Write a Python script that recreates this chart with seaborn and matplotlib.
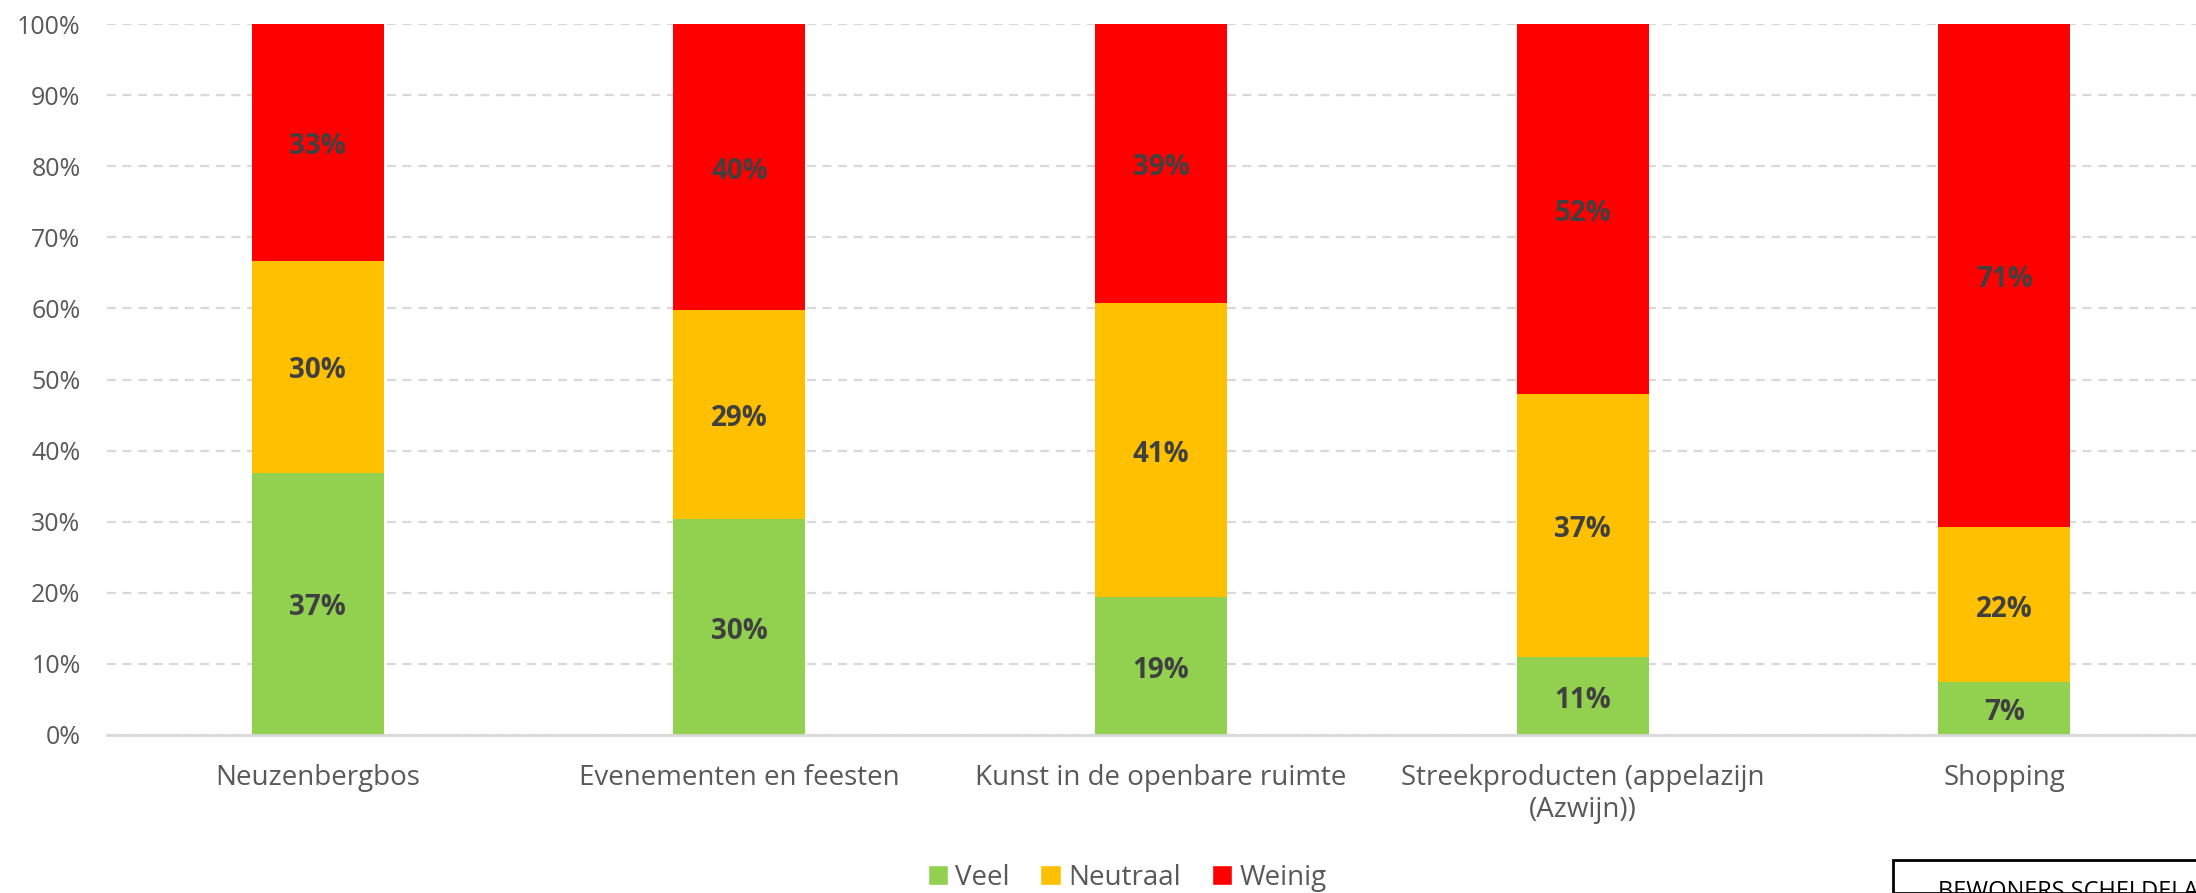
import pandas as pd
import matplotlib.pyplot as plt
import seaborn as sns
from matplotlib.patches import Patch, Rectangle

# Data (share of respondents, %)
categories = ['Neuzenbergbos', 'Evenementen en feesten', 'Kunst in de openbare ruimte',
              'Streekproducten (appelazijn\n(Azwijn))', 'Shopping']
veel = [36.9, 30.4, 19.4, 11.0, 7.4]
neutraal = [29.8, 29.4, 41.4, 36.9, 21.8]
weinig = [33.3, 40.2, 39.2, 52.1, 70.8]
series_names = ['Veel', 'Neutraal', 'Weinig']
colors = {'Veel': '#92D050', 'Neutraal': '#FFC000', 'Weinig': '#FF0000'}

df = pd.DataFrame({'categorie': categories, 'Veel': veel,
                   'Neutraal': neutraal, 'Weinig': weinig})
df['cum_veel'] = df['Veel']
df['cum_neutraal'] = df['Veel'] + df['Neutraal']
df['cum_weinig'] = df['cum_neutraal'] + df['Weinig']

sns.set_style('white')
plt.rcParams['font.family'] = ['Open Sans', 'DejaVu Sans']

fig = plt.figure(figsize=(21.96, 8.93), dpi=100)
ax = fig.add_axes([107 / 2196, 1 - 735 / 893, 2108 / 2196, (735 - 24) / 893])

# stacked bars: draw cumulative totals back to front
bw = 0.313
for col, name in [('cum_weinig', 'Weinig'), ('cum_neutraal', 'Neutraal'), ('cum_veel', 'Veel')]:
    sns.barplot(data=df, x='categorie', y=col, color=colors[name], width=bw,
                saturation=1, linewidth=0, ax=ax, zorder=3)

# segment labels
for i, row in df.iterrows():
    base = 0
    for name in series_names:
        v = row[name]
        ax.annotate(f'{round(v):.0f}%', (i, base + v / 2), xytext=(0, -3),
                    textcoords='offset points', ha='center', va='center',
                    fontsize=20, fontweight='bold', color='#404040', zorder=4)
        base += v

ax.set_xlim(-0.5, 4.5)
ax.set_ylim(0, 100)
ax.set_yticks(range(0, 101, 10))
ax.set_yticklabels([f'{t}%' for t in range(0, 101, 10)])
ax.yaxis.grid(True, color='#D9D9D9', linestyle=(0, (4, 3)), linewidth=1.6, zorder=0)
ax.set_axisbelow(True)
for s in ['top', 'right', 'left']:
    ax.spines[s].set_visible(False)
ax.spines['bottom'].set_color('#D9D9D9')
ax.spines['bottom'].set_linewidth(2)
ax.spines['bottom'].set_zorder(5)
ax.tick_params(axis='y', length=0, pad=19, labelsize=18, labelcolor='#595959')
ax.tick_params(axis='x', length=0, pad=21, labelsize=20, labelcolor='#595959')
ax.set_xlabel('')
ax.set_ylabel('')

handles = [Patch(facecolor=colors[n], label=n) for n in series_names]
fig.legend(handles=handles, loc='center', bbox_to_anchor=(1127 / 2196, 1 - 878 / 893),
           ncol=3, frameon=False, fontsize=20, labelcolor='#595959',
           handlelength=0.75, handleheight=0.75, handletextpad=0.25, columnspacing=1.1)

# source box at bottom right (cut off by the figure edge, as in the reference)
fig.patches.append(Rectangle((1893 / 2196, 0), 0.2, (893 - 860) / 893,
                             transform=fig.transFigure, fill=False,
                             edgecolor='black', linewidth=2))
fig.text(1938 / 2196, 1 - 880 / 893, 'BEWONERS SCHELDELAND', ha='left', va='top',
         fontsize=17, color='#000000')

plt.savefig('out.png', dpi=100)
